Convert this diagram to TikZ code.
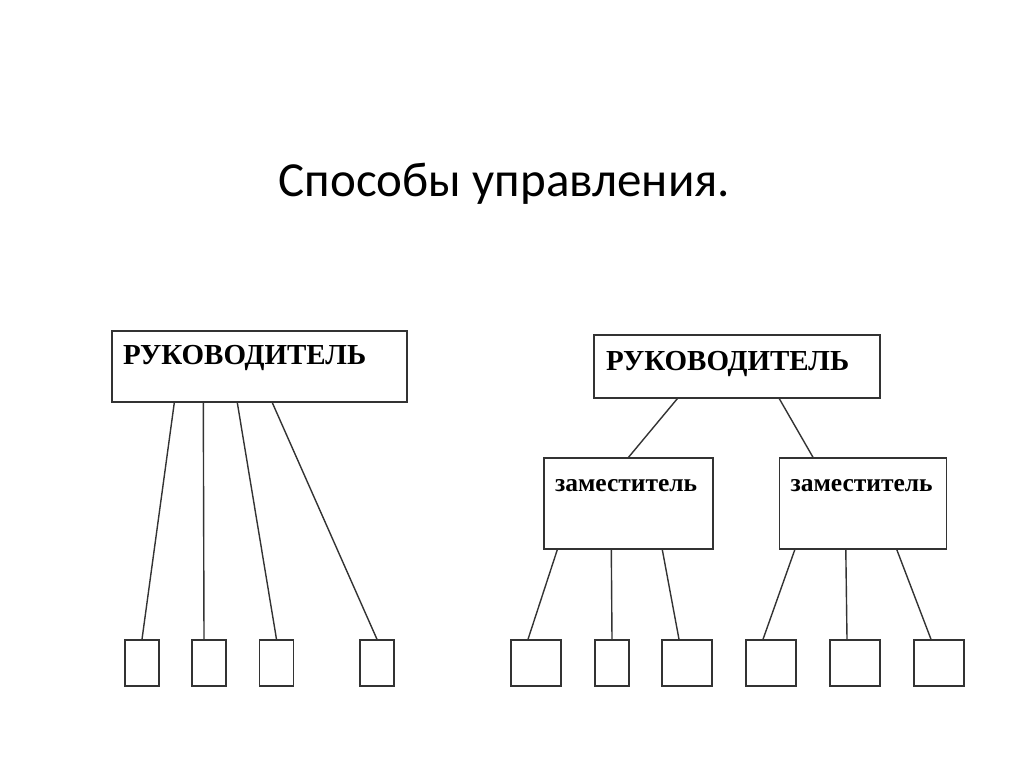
\documentclass[tikz,border=0pt]{standalone}
\usepackage{fontspec}
\setmainfont{Liberation Serif}
\newfontfamily\titlefont{Carlito}
\usetikzlibrary{positioning}

\begin{document}
\begin{tikzpicture}[x=1pt,y=-1pt,line width=1.4pt,
    box/.style={draw=black!80,inner sep=0pt},
    cell/.style={box,minimum width=34pt,minimum height=46pt},
    wcell/.style={box,minimum width=50pt,minimum height=46pt},
    link/.style={draw=black!80},
    boss/.style={font=\fontsize{29}{31}\selectfont\bfseries,inner sep=0pt,anchor=north west},
    deputy/.style={font=\fontsize{25.5}{27}\selectfont\bfseries,inner sep=0pt,anchor=north west}]
  \useasboundingbox (0,0) rectangle (1024,767);
  \node[font=\titlefont\fontsize{49}{52}\selectfont,anchor=base west,inner sep=0pt] (title) at (278,197) {Способы управления.};
  % linear scheme
  \node[box,minimum width=295pt,minimum height=71pt] (bossA) at (259.5,366.5) {};
  \node[boss] at ([xshift=11pt,yshift=-14pt]bossA.north west) {РУКОВОДИТЕЛЬ};
  \foreach \n/\x in {a1/142,a2/209,a3/276.5,a4/377}{\node[cell] (\n) at (\x,663) {};}
  \draw[link] ([xshift=63pt]bossA.south west) -- (a1.north);
  \draw[link] ([xshift=92pt]bossA.south west) -- ([xshift=-5pt]a2.north);
  \draw[link] ([xshift=126pt]bossA.south west) -- (a3.north);
  \draw[link] ([xshift=161pt]bossA.south west) -- (a4.north);
  % two-level scheme
  \node[box,minimum width=286pt,minimum height=63pt] (bossB) at (737,366.5) {};
  \node[boss] at ([xshift=12pt,yshift=-16pt]bossB.north west) {РУКОВОДИТЕЛЬ};
  \node[box,minimum width=169pt,minimum height=91pt] (depA) at (628.5,503.5) {};
  \node[box,minimum width=167pt,minimum height=91pt] (depB) at (863,503.5) {};
  \node[deputy] at ([xshift=11pt,yshift=-21pt]depA.north west) {заместитель};
  \node[deputy] at ([xshift=11pt,yshift=-21pt]depB.north west) {заместитель};
  \draw[link] ([xshift=84pt]bossB.south west) -- (depA.north);
  \draw[link] ([xshift=186pt]bossB.south west) -- ([xshift=-50pt]depB.north);
  \node[wcell] (b1) at (536,663) {};
  \node[cell] (b2) at (612,663) {};
  \foreach \n/\x in {b3/687,b4/771,b5/855,b6/939}{\node[wcell] (\n) at (\x,663) {};}
  \draw[link] ([xshift=14pt]depA.south west) -- ([xshift=-8pt]b1.north);
  \draw[link] ([xshift=68pt]depA.south west) -- (b2.north);
  \draw[link] ([xshift=119pt]depA.south west) -- ([xshift=-8pt]b3.north);
  \draw[link] ([xshift=16pt]depB.south west) -- ([xshift=-8pt]b4.north);
  \draw[link] ([xshift=67pt]depB.south west) -- ([xshift=-8pt]b5.north);
  \draw[link] ([xshift=118pt]depB.south west) -- ([xshift=-8pt]b6.north);
\end{tikzpicture}
\end{document}
